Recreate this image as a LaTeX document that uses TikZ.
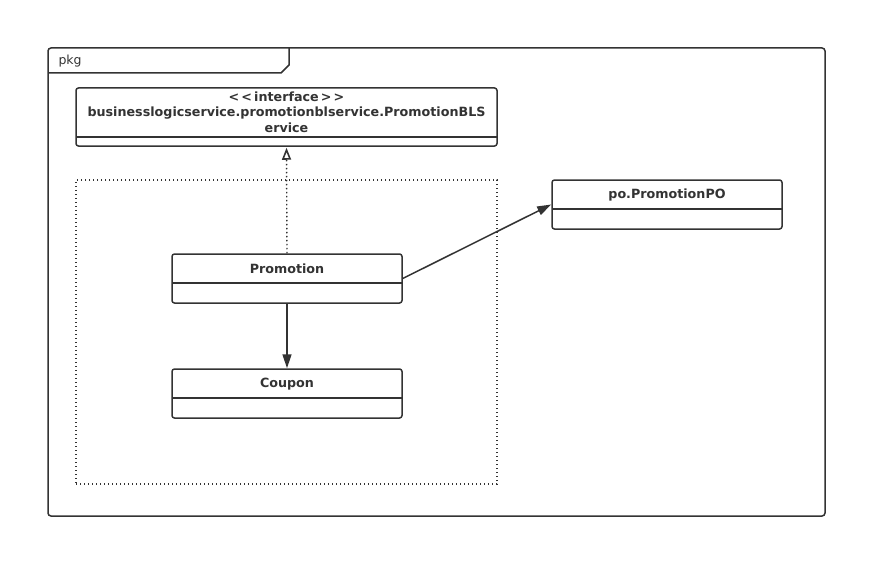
\documentclass[tikz,border=0pt]{standalone}
\usepackage{fontspec}
\setmainfont{DejaVu Sans}[Ligatures=NoCommon]
\usetikzlibrary{arrows.meta}
\definecolor{ink}{HTML}{333333}
\tikzset{
  cls/.style={draw=ink, line width=1.5pt, rounded corners=2.5pt, minimum width=230pt, minimum height=49pt, inner sep=0pt},
  sep/.style={draw=ink, line width=1.5pt},
  lbl/.style={text=ink, font=\bfseries\fontsize{12.7}{16}\selectfont, align=center},
  dots/.style={draw=ink, line width=1.4pt, dash pattern=on 1.4pt off 2.6pt},
  link/.style={draw=ink, line width=1.5pt},
}
\begin{document}
\begin{tikzpicture}[x=1pt,y=-1pt]
\useasboundingbox (0,0) rectangle (887,578);
% package frame
\node[draw=ink, line width=1.5pt, rounded corners=3pt, minimum width=777pt, minimum height=468pt, inner sep=0pt] (pkg) at (436.5,282) {};
\coordinate (tabA) at (289,48);
\draw[ink, line width=1.5pt] (tabA) -- (289,65) -- (281,73) -- (48,73);
\node[text=ink, font=\fontsize{12.5}{14}\selectfont, anchor=west] (pkglbl) at (55,61) {pkg};
% interface
\node[cls, minimum width=421pt, minimum height=58pt] (iface) at (286.5,117) {};
\draw[sep] (76,137) -- (497,137);
\node[lbl, text width=415pt] (ifacetxt) at (286.5,112) {\textless{}\,\textless{}\,interface\,\textgreater{}\,\textgreater\\[-0.5pt]businesslogicservice.promotionblservice.PromotionBLS\\[-0.5pt]ervice};
% dotted container
\node[dots, minimum width=421pt, minimum height=304pt, inner sep=0pt] (grp) at (286.5,332) {};
% Promotion
\node[cls] (prom) at (287,278.5) {};
\draw[sep] (172,283) -- (402,283);
\node[lbl] (promtxt) at (287,269) {Promotion};
% Coupon
\node[cls] (coup) at (287,393.5) {};
\draw[sep] (172,398) -- (402,398);
\node[lbl] (couptxt) at (287,384) {Coupon};
% PromotionPO
\node[cls] (po) at (667,204.5) {};
\draw[sep] (552,209) -- (782,209);
\node[lbl] (potxt) at (667,195) {po.PromotionPO};
% connectors
\draw[dots, -{Triangle[open, length=12pt, width=9pt, line width=1.6pt]}, shorten >=1pt] (prom.north) -- (iface.south);
\draw[link, -{Triangle[length=14pt, width=9pt]}] (prom.south) -- (coup.north);
\draw[link, -{Triangle[length=14pt, width=9pt]}] (prom.east) -- (po.west);
\end{tikzpicture}
\end{document}
